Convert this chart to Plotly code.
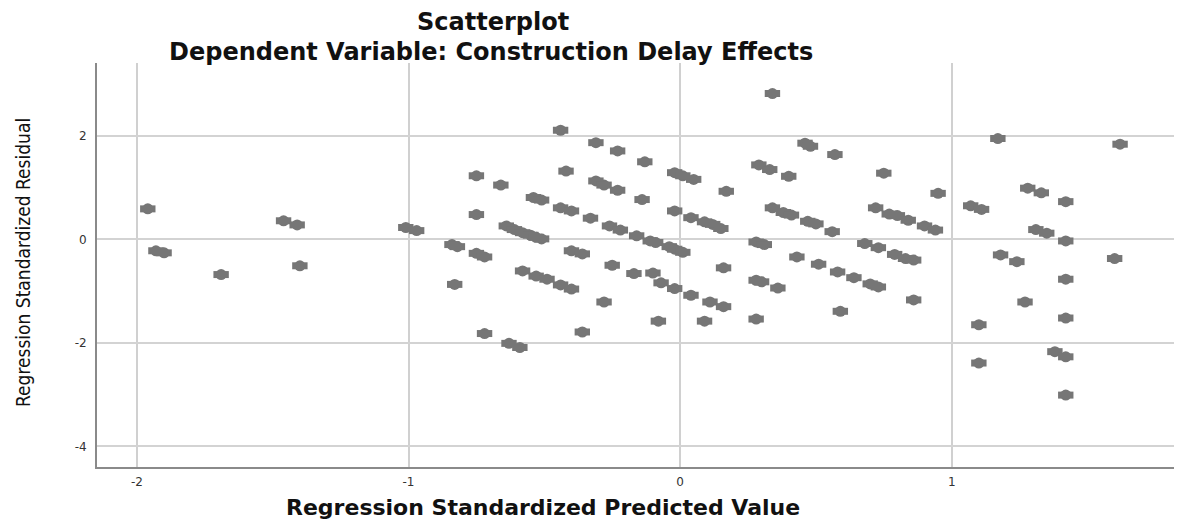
import plotly.graph_objects as go

# Regression standardized predicted values (x) and residuals (y)
pred = [-1.96, -1.93, -1.90, -1.69, -1.46, -1.41, -1.40, -1.01, -0.97, -0.84, -0.82, -0.83,
        -0.75, -0.75, -0.75, -0.72, -0.72,
        -0.44, -0.31, -0.23, -0.13, -0.02, 0.01, 0.05, -0.66, -0.42, -0.31, -0.28, -0.23,
        -0.14, -0.54, -0.51, -0.44, -0.40, -0.33, -0.26, -0.22, -0.16, -0.11, -0.09, -0.04,
        -0.02, 0.01, -0.02, 0.04,
        -0.64, -0.61, -0.58, -0.55, -0.53, -0.51,
        -0.40, -0.36, -0.58, -0.53, -0.49, -0.44, -0.40, -0.25, -0.17, -0.10, -0.07, -0.02,
        0.04, -0.28, -0.08, -0.63, -0.59, -0.36, 0.09,
        0.34, 0.46, 0.48, 0.57, 0.29, 0.33, 0.40, 0.75, 0.95, 0.17, 0.09, 0.12, 0.15, 0.34,
        0.38, 0.41, 0.47, 0.50, 0.56, 0.72, 0.77, 0.80, 0.84, 0.90, 0.94, 0.28, 0.31, 0.16,
        0.43, 0.51, 0.58, 0.64, 0.68, 0.73, 0.79, 0.83, 0.86, 0.70, 0.73, 0.28, 0.30, 0.36,
        0.86, 0.59, 0.11, 0.16, 0.28,
        1.17, 1.62, 1.28, 1.33, 1.42, 1.07, 1.11, 1.31, 1.35, 1.42, 1.18, 1.24, 1.60, 1.42,
        1.27, 1.10, 1.42, 1.38, 1.42, 1.10, 1.42]
resid = [0.59, -0.22, -0.26, -0.68, 0.36, 0.28, -0.51, 0.23, 0.17, -0.10, -0.14, -0.87,
         1.23, 0.48, -0.27, -0.34, -1.82,
         2.11, 1.87, 1.71, 1.50, 1.29, 1.23, 1.16, 1.05, 1.32, 1.13, 1.05, 0.95,
         0.77, 0.81, 0.76, 0.61, 0.55, 0.41, 0.26, 0.18, 0.07, -0.03, -0.06, -0.14,
         -0.19, -0.25, 0.55, 0.42,
         0.26, 0.19, 0.13, 0.08, 0.04, 0.01,
         -0.22, -0.28, -0.61, -0.71, -0.77, -0.88, -0.96, -0.50, -0.66, -0.65, -0.84, -0.95,
         -1.08, -1.21, -1.58, -2.01, -2.09, -1.79, -1.58,
         2.82, 1.86, 1.80, 1.64, 1.44, 1.35, 1.22, 1.28, 0.89, 0.93, 0.34, 0.29, 0.21, 0.61,
         0.52, 0.47, 0.35, 0.30, 0.15, 0.61, 0.49, 0.46, 0.37, 0.26, 0.18, -0.05, -0.10, -0.55,
         -0.34, -0.48, -0.63, -0.74, -0.08, -0.16, -0.29, -0.37, -0.40, -0.86, -0.92, -0.79, -0.82, -0.94,
         -1.17, -1.39, -1.21, -1.30, -1.54,
         1.95, 1.84, 0.99, 0.90, 0.73, 0.65, 0.58, 0.19, 0.12, -0.03, -0.30, -0.43, -0.37, -0.77,
         -1.21, -1.65, -1.52, -2.17, -2.27, -2.39, -3.01]

x_ticks = [-2, -1, 0, 1]
y_ticks = [-4, -2, 0, 2]

title_main = "Scatterplot"
title_sub = "Dependent Variable: Construction Delay Effects"
x_title = "Regression Standardized Predicted Value"
y_title = "Regression Standardized Residual"

dot = "#767676"

# page body has an 8px margin, so the figure is sized/laid out relative to that offset
W, H = 1174, 512
L, T, B = 89, 55, 53
plot_w = W - L
plot_h = H - T - B


def px(xpix):
    return (xpix - 8 - L) / plot_w


def py(ypix):
    return (H - B - (ypix - 8)) / plot_h


fig = go.Figure()
fig.add_trace(go.Scatter(x=pred, y=resid, mode="markers", hoverinfo="skip",
                         marker=dict(symbol="circle", size=11, color=dot, line=dict(width=0))))
fig.add_trace(go.Scatter(x=pred, y=resid, mode="markers", hoverinfo="skip",
                         marker=dict(symbol="line-ew", size=11, color=dot,
                                     line=dict(width=7, color=dot))))

title_font = dict(family="DejaVu Sans", size=24, color="#111111", weight="bold")

fig.add_annotation(text=title_main, xref="paper", yref="paper", x=px(493), y=py(22),
                   xanchor="center", yanchor="middle", showarrow=False, font=title_font)
fig.add_annotation(text=title_sub, xref="paper", yref="paper", x=px(491), y=py(52),
                   xanchor="center", yanchor="middle", showarrow=False, font=title_font)
fig.add_annotation(text=x_title, xref="paper", yref="paper", x=px(543), y=py(507),
                   xanchor="center", yanchor="middle", showarrow=False,
                   font=dict(family="DejaVu Sans", size=22, color="#111111", weight="bold"))
fig.add_annotation(text=y_title, xref="paper", yref="paper", x=px(23), y=py(263),
                   xanchor="center", yanchor="middle", showarrow=False, textangle=-90,
                   font=dict(family="Liberation Sans Narrow, DejaVu Sans Condensed, Liberation Sans",
                             size=19, color="#111111"))

fig.update_layout(
    width=W, height=H,
    margin=dict(l=L, r=0, t=T, b=B, pad=0),
    paper_bgcolor="white", plot_bgcolor="white",
    showlegend=False,
    xaxis=dict(range=[-2.147, 1.848], tickvals=x_ticks, ticktext=[str(v) for v in x_ticks],
               showgrid=True, gridcolor="#d0d0d0", gridwidth=2, zeroline=False,
               showline=True, linecolor="#8a8a8a", linewidth=2,
               ticks="", ticklabelstandoff=3,
               tickfont=dict(family="DejaVu Sans", size=12, color="#333333")),
    yaxis=dict(range=[-4.40, 3.41], tickvals=y_ticks, ticktext=[str(v) for v in y_ticks],
               showgrid=True, gridcolor="#d3d3d3", gridwidth=1.5, zeroline=False,
               showline=True, linecolor="#8a8a8a", linewidth=2,
               ticks="", ticklabelstandoff=6,
               tickfont=dict(family="DejaVu Sans", size=12, color="#333333")),
)

fig.write_html("out.html")
